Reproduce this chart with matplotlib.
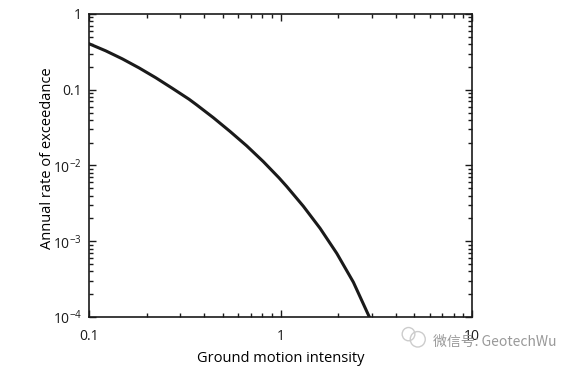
import matplotlib
matplotlib.use("Agg")
import matplotlib.pyplot as plt
from matplotlib.patches import Ellipse
from matplotlib.ticker import FixedLocator, FixedFormatter, LogLocator, NullFormatter

plt.rcParams['font.family'] = ['Open Sans', 'DejaVu Sans']
plt.rcParams['mathtext.default'] = 'regular'

# hazard curve
intensity = [0.100, 0.1222, 0.1492, 0.1824, 0.2230, 0.2723, 0.3328, 0.3650, 0.4457,
             0.5446, 0.6660, 0.8131, 0.9822, 1.0775, 1.315, 1.608, 1.966, 2.400,
             2.874, 2.92]
rate = [0.405, 0.3266, 0.2559, 0.1945, 0.1442, 0.1045, 0.0750, 0.0631, 0.0428,
        0.0282, 0.01816, 0.01125, 0.00686, 0.00528, 0.00290, 0.001483, 0.000692,
        0.000288, 0.0001067, 0.000098]

xticks = [0.1, 1, 10]
xlabels = ['0.1', '1', '10']
yticks = [1e-4, 1e-3, 1e-2, 0.1, 1]
ylabels = ['$10^{-4}$', '$10^{-3}$', '$10^{-2}$', '0.1', '1']

fig = plt.figure(figsize=(5.77, 3.68), dpi=100)
ax = fig.add_axes([0.1542, 0.1386, 0.664, 0.8234])

ax.plot(intensity, rate, color='#1a1a1a', lw=2.2)
ax.set_xscale('log')
ax.set_yscale('log')
ax.set_xlim(0.1, 10)
ax.set_ylim(1e-4, 1)

ax.xaxis.set_major_locator(FixedLocator(xticks))
ax.xaxis.set_major_formatter(FixedFormatter(xlabels))
ax.yaxis.set_major_locator(FixedLocator(yticks))
ax.yaxis.set_major_formatter(FixedFormatter(ylabels))
ax.xaxis.set_minor_locator(LogLocator(base=10, subs=range(2, 10)))
ax.yaxis.set_minor_locator(LogLocator(base=10, subs=range(2, 10)))
ax.xaxis.set_minor_formatter(NullFormatter())
ax.yaxis.set_minor_formatter(NullFormatter())

ax.tick_params(which='both', direction='in', top=True, right=True, width=1, colors='#1a1a1a')
ax.tick_params(which='major', length=5, labelsize=10)
ax.tick_params(which='minor', length=3)
ax.tick_params(axis='x', which='major', pad=8.5)
ax.tick_params(axis='y', which='major', pad=5)
for s in ax.spines.values():
    s.set_linewidth(1.2)
    s.set_color('#1a1a1a')

ax.set_xlabel('Ground motion intensity', fontsize=10.5, labelpad=5)
ax.set_ylabel('Annual rate of exceedance', fontsize=10.5)
ax.yaxis.set_label_coords(-0.089, 0.523)

# watermark
fig.patches.append(Ellipse((0.708, 0.092), 0.022, 0.036, transform=fig.transFigure,
                           fill=False, ec='#cccccc', lw=1))
fig.patches.append(Ellipse((0.724, 0.078), 0.026, 0.042, transform=fig.transFigure,
                           fill=False, ec='#cccccc', lw=1))
fig.text(0.75, 0.072, '微信号: GeotechWu', fontsize=10, color='#999999',
         family=['Noto Sans CJK SC', 'DejaVu Sans'], va='center')

fig.savefig('out.png', dpi=100)
